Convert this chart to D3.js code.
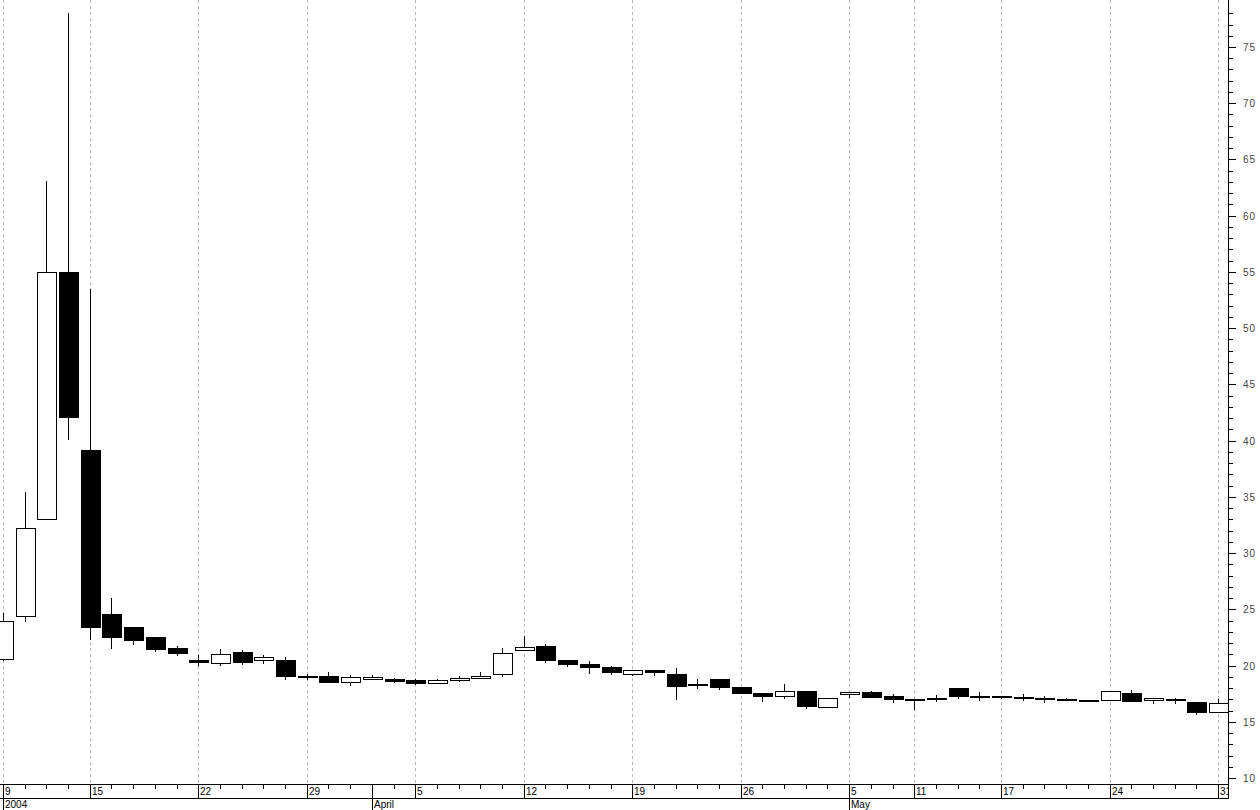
<!DOCTYPE html>
<html><head><meta charset="utf-8">
<script src="https://cdn.jsdelivr.net/npm/d3@7"></script>
<style>
body{margin:0;background:#fff}
svg{display:block}
text{font-family:"Liberation Sans",Arial,sans-serif}
</style>
</head><body>
<svg id="c" width="1260" height="810"></svg>
<script>
// ---- data ----
const dates = [
 "2004-03-09","2004-03-10","2004-03-11","2004-03-12","2004-03-15","2004-03-16","2004-03-17","2004-03-18","2004-03-19",
 "2004-03-22","2004-03-23","2004-03-24","2004-03-25","2004-03-26","2004-03-29","2004-03-30","2004-03-31","2004-04-01",
 "2004-04-02","2004-04-05","2004-04-06","2004-04-07","2004-04-08","2004-04-09","2004-04-12","2004-04-13","2004-04-14",
 "2004-04-15","2004-04-16","2004-04-19","2004-04-20","2004-04-21","2004-04-22","2004-04-23","2004-04-26","2004-04-27",
 "2004-04-28","2004-04-29","2004-04-30","2004-05-05","2004-05-06","2004-05-07","2004-05-11","2004-05-12","2004-05-13",
 "2004-05-14","2004-05-17","2004-05-18","2004-05-19","2004-05-20","2004-05-21","2004-05-24","2004-05-25","2004-05-26",
 "2004-05-27","2004-05-28","2004-05-31"];
const open  = [20.6,24.4,33.0,55.0,39.2,24.6,23.4,22.5,21.6,20.5,20.25,21.2,20.53,20.5,19.06,19.07,18.51,18.78,18.78,18.69,18.42,18.69,18.87,19.22,21.39,21.74,20.5,20.17,19.88,19.28,19.6,19.28,18.36,18.81,18.1,17.59,17.27,17.74,16.35,17.45,17.65,17.3,17.0,17.09,18.0,17.25,17.25,17.18,17.09,17.0,16.9,16.9,17.56,16.9,17.0,16.73,15.84];
const high  = [24.7,35.4,63.1,78.0,53.5,26.0,23.4,22.5,21.7,20.9,21.45,21.35,20.9,20.74,19.22,19.4,19.14,19.14,18.9,18.83,18.83,19.1,19.43,21.57,22.66,21.92,20.5,20.41,19.96,19.58,19.6,19.79,18.81,18.81,18.1,17.59,18.39,17.74,17.09,17.65,17.74,17.5,17.0,17.41,18.0,17.61,17.25,17.45,17.25,17.09,16.9,17.71,17.83,17.09,17.13,16.73,17.03];
const low   = [20.5,24.0,33.0,40.1,22.4,21.6,21.9,21.3,20.9,20.05,20.05,20.17,20.26,18.83,18.83,18.57,18.3,18.78,18.54,18.36,18.42,18.6,18.87,19.1,21.39,20.32,19.99,19.37,19.28,19.14,19.19,17.03,18.04,17.92,17.59,16.85,17.14,16.26,16.3,17.18,17.24,16.79,16.14,16.86,17.09,16.96,17.1,16.9,16.79,16.9,16.9,16.9,16.87,16.7,16.7,15.69,15.84];
const close = [24.0,32.2,55.0,42.1,23.4,22.5,22.3,21.5,21.1,20.35,21.0,20.35,20.74,19.1,19.04,18.57,18.96,18.96,18.66,18.48,18.69,18.87,19.07,21.12,21.63,20.53,20.17,19.9,19.46,19.58,19.4,18.21,18.36,18.12,17.59,17.32,17.74,16.43,17.09,17.65,17.24,17.06,17.0,17.09,17.25,17.25,17.25,17.18,17.09,17.0,16.9,17.71,16.87,17.09,17.0,15.84,16.7];

const weekTicks = ["2004-03-09","2004-03-15","2004-03-22","2004-03-29","2004-04-05","2004-04-12","2004-04-19","2004-04-26","2004-05-05","2004-05-11","2004-05-17","2004-05-24","2004-05-31"];
const weekLabels = ["9","15","22","29","5","12","19","26","5","11","17","24","31"];
const monthTicks = ["2004-03-09","2004-04-01","2004-05-05"];
const monthLabels = ["2004","April","May"];
const yTicks = [10,15,20,25,30,35,40,45,50,55,60,65,70,75];

// ---- layout ----
const svg = d3.select("#c");
const axisX = 1228, plotBottom = 784, row2 = 798, rowEnd = 810;
const x = d3.scalePoint().domain(dates).range([3, 1218]);
const y = d3.scaleLinear().domain([10, 75]).range([778, 47]);
const cx = d => Math.round(x(d));

const defs = svg.append("defs");
defs.append("clipPath").attr("id","plot").append("rect")
  .attr("x",0).attr("y",0).attr("width",axisX).attr("height",plotBottom);
defs.append("clipPath").attr("id","axisrow").append("rect")
  .attr("x",0).attr("y",plotBottom).attr("width",axisX).attr("height",rowEnd-plotBottom);

// gridlines
svg.append("g").selectAll("line").data(weekTicks).join("line")
  .attr("x1", d=>cx(d)+0.5).attr("x2", d=>cx(d)+0.5)
  .attr("y1", 0).attr("y2", plotBottom)
  .attr("stroke","#b8b8b8").attr("stroke-dasharray","3,3").attr("shape-rendering","crispEdges");

// candles
const candles = dates.map((d,i)=>({d, o:open[i], h:high[i], l:low[i], c:close[i]}));
const g = svg.append("g").attr("clip-path","url(#plot)");
const cg = g.selectAll("g.c").data(candles).join("g").attr("class","c");
cg.append("line")
  .attr("x1", d=>cx(d.d)+0.5).attr("x2", d=>cx(d.d)+0.5)
  .attr("y1", d=>Math.round(y(d.h))).attr("y2", d=>Math.round(y(d.l))+1)
  .attr("stroke","#000").attr("stroke-width",1).attr("shape-rendering","crispEdges");
cg.append("rect")
  .attr("x", d=>cx(d.d)-9+0.5)
  .attr("width", 19)
  .attr("y", d=>Math.round(y(Math.max(d.o,d.c)))+0.5)
  .attr("height", d=>Math.max(1, Math.round(y(Math.min(d.o,d.c))) - Math.round(y(Math.max(d.o,d.c)))))
  .attr("fill", d=> d.c < d.o ? "#000" : "#fff")
  .attr("stroke","#000").attr("stroke-width",1).attr("shape-rendering","crispEdges");

// right axis
const ax = svg.append("g").attr("shape-rendering","crispEdges");
ax.append("line").attr("x1",axisX+0.5).attr("x2",axisX+0.5).attr("y1",0).attr("y2",plotBottom).attr("stroke","#000");
const minor = d3.range(10, 79, 1).filter(v => y(v) >= 0);
ax.selectAll("line.mn").data(minor).join("line").attr("class","mn")
  .attr("x1",axisX).attr("x2", v => axisX + (v % 5 === 0 ? 8 : 5))
  .attr("y1", v=>Math.round(y(v))+0.5).attr("y2", v=>Math.round(y(v))+0.5)
  .attr("stroke","#000");
svg.append("g").selectAll("text").data(yTicks).join("text")
  .attr("x", 1243).attr("y", v=>Math.round(y(v))+4)
  .attr("font-size","10px").attr("letter-spacing","1px").attr("fill","#444")
  .text(v=>v);

// bottom date axis
const bx = svg.append("g").attr("shape-rendering","crispEdges");
bx.append("line").attr("x1",0).attr("x2",axisX+1).attr("y1",plotBottom+0.5).attr("y2",plotBottom+0.5).attr("stroke","#000");
bx.append("line").attr("x1",0).attr("x2",axisX+1).attr("y1",row2+0.5).attr("y2",row2+0.5).attr("stroke","#000");
bx.append("line").attr("x1",axisX+0.5).attr("x2",axisX+0.5).attr("y1",plotBottom).attr("y2",row2).attr("stroke","#000");
bx.selectAll("line.dt").data(dates.filter(d=>!weekTicks.includes(d) && !monthTicks.includes(d))).join("line").attr("class","dt")
  .attr("x1", d=>cx(d)+0.5).attr("x2", d=>cx(d)+0.5)
  .attr("y1", plotBottom).attr("y2", plotBottom+5).attr("stroke","#000");
bx.selectAll("line.wk").data(weekTicks.concat(monthTicks)).join("line").attr("class","wk")
  .attr("x1", d=>cx(d)+0.5).attr("x2", d=>cx(d)+0.5)
  .attr("y1", plotBottom).attr("y2", row2).attr("stroke","#000");
bx.selectAll("line.mo").data(monthTicks).join("line").attr("class","mo")
  .attr("x1", d=>cx(d)+0.5).attr("x2", d=>cx(d)+0.5)
  .attr("y1", row2).attr("y2", rowEnd).attr("stroke","#000");
const lab = svg.append("g").attr("clip-path","url(#axisrow)");
lab.selectAll("text.wl").data(weekTicks).join("text").attr("class","wl")
  .attr("x", d=>cx(d)+2).attr("y", 795)
  .attr("font-size","10px").attr("fill","#000")
  .text((d,i)=>weekLabels[i]);
lab.selectAll("text.ml").data(monthTicks).join("text").attr("class","ml")
  .attr("x", d=>cx(d)+2).attr("y", 808)
  .attr("font-size","10px").attr("fill","#000")
  .text((d,i)=>monthLabels[i]);
</script>
</body></html>
